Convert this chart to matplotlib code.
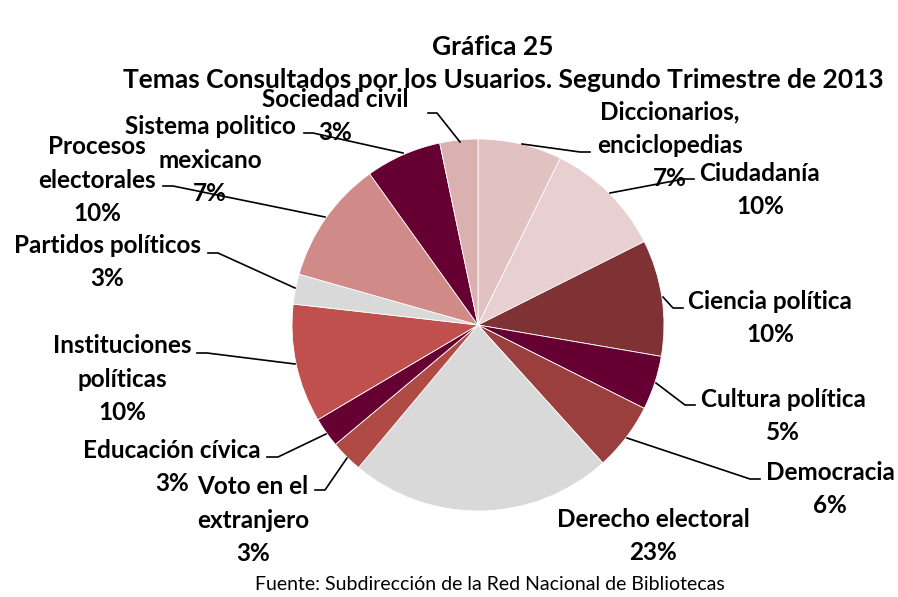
import matplotlib.pyplot as plt

temas = ["Diccionarios,\nenciclopedias", "Ciudadanía", "Ciencia política", "Cultura política",
         "Democracia", "Derecho electoral", "Voto en el\nextranjero", "Educación cívica",
         "Instituciones\npolíticas", "Partidos políticos", "Procesos\nelectorales",
         "Sistema politico\nmexicano", "Sociedad civil"]
valores = [7.3, 10.3, 10.1, 4.7, 5.9, 22.8, 2.8, 2.6, 10.3, 2.6, 10.7, 6.6, 3.3]
porcentajes = ["7%", "10%", "10%", "5%", "6%", "23%", "3%", "3%", "10%", "3%", "10%", "7%", "3%"]
colores = ["#E2C1C3", "#E8CFD0", "#7F3233", "#660033", "#9B3F3E", "#D9D9D9", "#B04A45",
           "#660033", "#C0504D", "#D9D9D9", "#D08B89", "#660033", "#DBB0B1"]

# label centres and leader lines, in pixels of the 898x597 picture
etiq_pos = [(670, 145), (760, 190), (770, 318), (783, 416), (830, 489), (653, 536),
            (253, 520), (172, 467), (122, 379), (107, 262), (97, 180), (210, 160), (335, 116)]
lineas = [[(590, 152), (580, 152), (522, 144)],
          [(694, 179), (684, 179), (610, 193)],
          [(683, 308), (673, 308), (663, 297)],
          [(695, 405), (685, 405), (656, 383)],
          [(760, 479), (750, 479), (627, 438)],
          None,
          [(315, 490), (325, 490), (347, 458)],
          [(267, 457), (278, 457), (326, 434)],
          [(197, 353), (207, 353), (295, 364)],
          [(208, 253), (218, 253), (295, 288)],
          [(163, 186), (173, 186), (325, 217)],
          [(304, 133), (313, 133), (403, 153)],
          [(428, 113), (437, 113), (460, 142)]]

W, H = 898, 597
cx, cy, R = 478, 325, 186


def px(p):
    return ((p[0] - cx) / R, (cy - p[1]) / R)


fig = plt.figure(figsize=(W / 100, H / 100), dpi=100)
ax = fig.add_axes([0, 0, 1, 1])
ax.pie(valores, colors=colores, startangle=90, counterclock=False, radius=1,
       wedgeprops=dict(edgecolor="white", linewidth=0.6))
ax.set_xlim(-cx / R, (W - cx) / R)
ax.set_ylim(-(H - cy) / R, cy / R)
ax.set_aspect("equal")
ax.axis("off")

fuente = "Lato"
for nombre, pct, pos, lin in zip(temas, porcentajes, etiq_pos, lineas):
    x, y = px(pos)
    ax.text(x, y, nombre + "\n" + pct, ha="center", va="center", fontsize=17.5,
            fontweight="bold", family=fuente, linespacing=1.55)
    if lin:
        xs = [px(p)[0] for p in lin]
        ys = [px(p)[1] for p in lin]
        ax.plot(xs, ys, color="black", lw=1.2)

fig.text(493 / W, 1 - 47 / H, "Gráfica 25", ha="center", va="center", fontsize=19,
         fontweight="bold", family=fuente)
fig.text(503 / W, 1 - 80 / H, "Temas Consultados por los Usuarios. Segundo Trimestre de 2013",
         ha="center", va="center", fontsize=19, fontweight="bold", family=fuente)
fig.text(490 / W, 1 - 585 / H, "Fuente: Subdirección de la Red Nacional de Bibliotecas",
         ha="center", va="center", fontsize=14, family=fuente)

fig.savefig("out.png", dpi=100)
